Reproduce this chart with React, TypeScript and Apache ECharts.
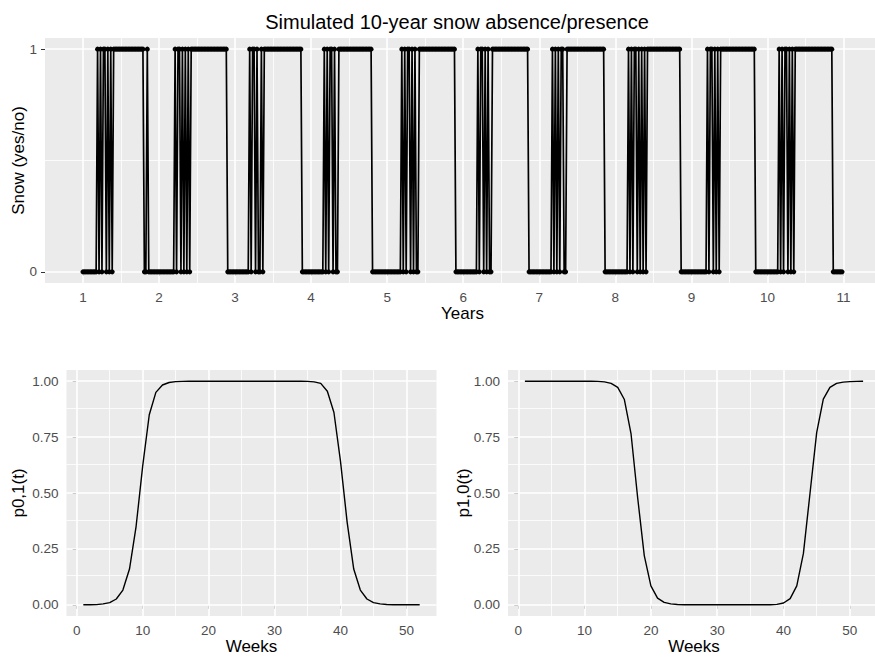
import React, { useEffect, useRef } from "react";
import * as echarts from "echarts";

// Snow presence (1) / absence (0), one string per simulated year, 52 weeks split in four 13-week blocks
const snowYears: string[] = [
  "0000000000101|0110101011111|1111111111111|1110010000000",
  "0000000000010|1101010101111|1111111111111|1111111100000",
  "0000000000101|1010010111111|1111111111111|1111111000000",
  "0000000001010|1101001111111|1111111111111|1110000000000",
  "0000000000101|0110101001111|1111111111111|1111111100000",
  "0000000000101|1010100111111|1111111111111|1111110000000",
  "0000000001010|1011001111111|1111111111111|1111110000000",
  "0000000001010|1101010101111|1111111111111|1111110000000",
  "0000000000010|1101010111111|1111111111111|1111100000000",
  "0000000010101|1010101111111|1111111111111|1111110000000",
];

const yearTicks = [1, 2, 3, 4, 5, 6, 7, 8, 9, 10, 11];
const yearMinorGrid = [1.5, 2.5, 3.5, 4.5, 5.5, 6.5, 7.5, 8.5, 9.5, 10.5];
const snowTicks = [0, 1];
const snowMinorGrid = [0.5];

// Transition probabilities by week (1..52)
const p01 = [
  0.0, 0.0005, 0.001, 0.004, 0.01, 0.026, 0.066, 0.16, 0.35, 0.62,
  0.85, 0.95, 0.983, 0.994, 0.998, 0.999, 1, 1, 1, 1,
  1, 1, 1, 1, 1, 1, 1, 1, 1, 1,
  1, 1, 1, 1, 0.999, 0.997, 0.99, 0.955, 0.86, 0.64,
  0.37, 0.16, 0.066, 0.026, 0.01, 0.004, 0.0015, 0.0005, 0, 0,
  0, 0,
];
const p10 = [
  1, 1, 1, 1, 1, 1, 1, 1, 1, 1,
  1, 0.999, 0.997, 0.99, 0.972, 0.918, 0.766, 0.48, 0.22, 0.085,
  0.03, 0.011, 0.004, 0.0015, 0.0005, 0, 0, 0, 0, 0,
  0, 0, 0, 0, 0, 0, 0, 0.0005, 0.002, 0.008,
  0.028, 0.085, 0.23, 0.5, 0.77, 0.92, 0.972, 0.99, 0.996, 0.998,
  0.999, 1,
];
const weekTicks = [0, 10, 20, 30, 40, 50];
const weekMinorGrid = [5, 15, 25, 35, 45];
const probTicks = [0, 0.25, 0.5, 0.75, 1];
const probMinorGrid = [0.125, 0.375, 0.625, 0.875];

const FONT = "'Liberation Sans', Arial, Helvetica, sans-serif";

function gridLines(gi: number, majX: number[], minX: number[], majY: number[], minY: number[]) {
  const minor = { color: "#FFFFFF", width: 0.8, type: "solid" as const, opacity: 1 };
  const major = { color: "#FFFFFF", width: 1.6, type: "solid" as const, opacity: 1 };
  return {
    type: "line",
    xAxisIndex: gi,
    yAxisIndex: gi,
    data: [],
    silent: true,
    z: 1,
    markLine: {
      silent: true,
      symbol: ["none", "none"],
      label: { show: false },
      z: 1,
      animation: false,
      emphasis: { disabled: true },
      data: [
        ...minX.map((v) => ({ xAxis: v, lineStyle: minor })),
        ...minY.map((v) => ({ yAxis: v, lineStyle: minor })),
        ...majX.map((v) => ({ xAxis: v, lineStyle: major })),
        ...majY.map((v) => ({ yAxis: v, lineStyle: major })),
      ],
    },
  };
}

function xAxisCfg(gi: number, min: number, max: number, ticks: number[], name: string) {
  return {
    type: "value",
    gridIndex: gi,
    min,
    max,
    name,
    nameLocation: "middle",
    nameGap: 22,
    nameMoveOverlap: false,
    nameTextStyle: { color: "#000", fontSize: 17, fontFamily: FONT },
    axisLine: { show: false },
    axisTick: { show: true, length: 4, lineStyle: { color: "#333333", width: 1 }, customValues: ticks },
    axisLabel: {
      customValues: ticks,
      color: "#4D4D4D",
      fontSize: 13.5,
      fontFamily: FONT,
      margin: 7,
      formatter: (v: number) => String(v),
    },
    splitLine: { show: false },
  };
}

function yAxisCfg(gi: number, ticks: number[], name: string, gap: number, decimals: number) {
  return {
    type: "value",
    gridIndex: gi,
    min: -0.05,
    max: 1.05,
    name,
    nameLocation: "middle",
    nameGap: gap,
    nameMoveOverlap: false,
    nameTextStyle: { color: "#000", fontSize: 17, fontFamily: FONT },
    axisLine: { show: false },
    axisTick: { show: true, length: 4, lineStyle: { color: "#333333", width: 1 }, customValues: ticks },
    axisLabel: {
      customValues: ticks,
      color: "#4D4D4D",
      fontSize: 13.5,
      fontFamily: FONT,
      margin: 8,
      formatter: (v: number) => v.toFixed(decimals),
    },
    splitLine: { show: false },
  };
}

export default function App() {
  const ref = useRef<HTMLDivElement>(null);

  useEffect(() => {
    if (!ref.current) return;
    const chart = echarts.init(ref.current, undefined, { renderer: "svg" });

    const snowData: number[][] = [];
    snowYears.forEach((s, k) => {
      const chars = s.replace(/\|/g, "").split("");
      chars.forEach((c, w) => {
        snowData.push([k + 1 + w / 52, Number(c)]);
      });
    });
    const xs = snowData.map((d) => d[0]);
    const sMin = Math.min(...xs);
    const sMax = Math.max(...xs);
    const sExp = (sMax - sMin) * 0.05;

    const weeks = p01.map((_, i) => i + 1);
    const wExp = (52 - 1) * 0.05;

    const gridBase = {
      show: true,
      backgroundColor: "#EBEBEB",
      borderWidth: 0,
      containLabel: false,
      outerBoundsMode: "none",
    };

    const option: any = {
      animation: false,
      backgroundColor: "#FFFFFF",
      title: {
        text: "Simulated 10-year snow absence/presence",
        left: 452,
        top: 7,
        textAlign: "center",
        textStyle: { fontSize: 20, fontWeight: "normal", color: "#000", fontFamily: FONT },
      },
      grid: [
        { ...gridBase, left: 45, top: 38, width: 835, height: 245 },
        { ...gridBase, left: 66.5, top: 370, width: 370, height: 246 },
        { ...gridBase, left: 508, top: 370, width: 372, height: 246 },
      ],
      xAxis: [
        xAxisCfg(0, sMin - sExp, sMax + sExp, yearTicks, "Years"),
        xAxisCfg(1, 1 - wExp, 52 + wExp, weekTicks, "Weeks"),
        xAxisCfg(2, 1 - wExp, 52 + wExp, weekTicks, "Weeks"),
      ],
      yAxis: [
        yAxisCfg(0, snowTicks, "Snow (yes/no)", 18, 0),
        yAxisCfg(1, probTicks, "p0,1(t)", 40, 2),
        yAxisCfg(2, probTicks, "p1,0(t)", 36, 2),
      ],
      series: [
        gridLines(0, yearTicks, yearMinorGrid, snowTicks, snowMinorGrid),
        gridLines(1, weekTicks, weekMinorGrid, probTicks, probMinorGrid),
        gridLines(2, weekTicks, weekMinorGrid, probTicks, probMinorGrid),
        {
          type: "line",
          xAxisIndex: 0,
          yAxisIndex: 0,
          data: snowData,
          symbol: "circle",
          symbolSize: 5,
          showSymbol: true,
          itemStyle: { color: "#000" },
          lineStyle: { color: "#000", width: 1.7 },
          silent: true,
          z: 3,
        },
        {
          type: "line",
          xAxisIndex: 1,
          yAxisIndex: 1,
          data: weeks.map((w, i) => [w, p01[i]]),
          showSymbol: false,
          lineStyle: { color: "#000", width: 1.4 },
          silent: true,
          z: 3,
        },
        {
          type: "line",
          xAxisIndex: 2,
          yAxisIndex: 2,
          data: weeks.map((w, i) => [w, p10[i]]),
          showSymbol: false,
          lineStyle: { color: "#000", width: 1.4 },
          silent: true,
          z: 3,
        },
      ],
    };

    chart.setOption(option);
    return () => chart.dispose();
  }, []);

  return (
    <div
      ref={ref}
      style={{ position: "absolute", left: 0, top: 0, width: 875, height: 662, overflow: "hidden" }}
    />
  );
}
